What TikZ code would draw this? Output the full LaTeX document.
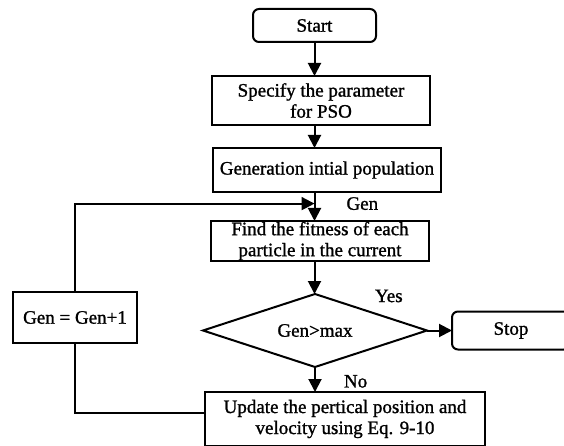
\documentclass[tikz,border=0pt]{standalone}
\usepackage{fontspec}
\setmainfont{Liberation Serif}[BoldFont={Liberation Serif}, BoldFeatures={FakeBold=1.2}]
\usetikzlibrary{arrows.meta, positioning, shapes.geometric, calc}

\begin{document}
\begin{tikzpicture}[x=1pt, y=1pt, line width=2pt,
    font=\fontsize{19}{21}\selectfont\bfseries,
    box/.style={draw, rectangle, align=center, inner sep=0pt, outer sep=0pt, fill=white},
    term/.style={box, rounded corners=6pt},
    decision/.style={draw, diamond, aspect=3, inner sep=0pt, outer sep=0pt, fill=white},
    lbl/.style={inner sep=0pt},
    arr/.style={-{Triangle[length=13pt, width=13pt]}}]
    \useasboundingbox (0,0) rectangle (564,-446);
    \clip (0,0) rectangle (564,-446);

    % Start terminal
    \node[term, minimum width=123pt, minimum height=33pt] (start) at (314.5,-25.5) {Start};

    % Set up PSO
    \node[box, minimum width=218pt, minimum height=49pt, below=34pt of start, xshift=6.5pt] (spec) {Specify the parameter\\for PSO};
    \node[box, minimum width=228pt, minimum height=44pt, below=23pt of spec, xshift=6pt] (gen) {Generation intial population};

    % Main loop
    \node[box, minimum width=218pt, minimum height=40pt, below=29pt of gen, xshift=-7pt] (find) {Find the fitness of each\\particle in the current};
    \node[decision, minimum width=224pt, minimum height=73pt, below=33pt of find, xshift=-5pt] (dec) {Gen>max};
    \node[term, minimum width=118pt, minimum height=38pt, right=25pt of dec] (stop) {Stop};
    \node[box, minimum width=280pt, minimum height=54pt, below=25pt of dec, xshift=30pt] (upd) {Update the pertical position and\\velocity using Eq. 9-10};
    \node[box, minimum width=124pt, minimum height=51pt, left=66pt of dec, yshift=13pt] (inc) {Gen = Gen+1};

    % Column of the main arrows
    \coordinate (col) at (start.south);
    \coordinate (join) at ($(col |- gen.south)!0.4!(col |- find.north)$);

    % Arrows
    \draw[arr] (start.south) -- (col |- spec.north);
    \draw[arr] (col |- spec.south) -- (col |- gen.north);
    \draw[arr] (col |- gen.south) -- (col |- find.north);
    \draw[arr] (col |- find.south) -- (col |- dec.north);
    \draw[arr] (dec.east) -- (stop.west);
    \draw[arr] (dec.south) -- (dec.south |- upd.north);
    \draw ([yshift=-21pt]upd.north west) -| (inc.south);
    \draw[arr] (inc.north) |- (join);

    % Labels
    \node[lbl, right=31pt of join] (genlbl) {Gen};
    \node[lbl, above right=9pt and 3pt of dec.north east] (yes) {Yes};
    \node[lbl, below right=7pt and 28pt of dec.south] (no) {No};
\end{tikzpicture}
\end{document}
